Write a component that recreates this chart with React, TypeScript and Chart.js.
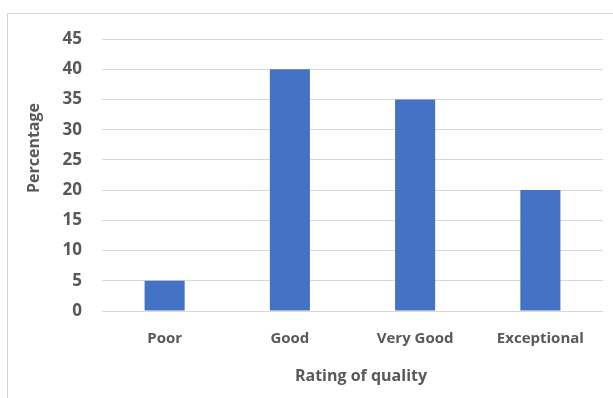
import React, { useEffect, useRef } from "react";
import { Chart, registerables } from "chart.js";

Chart.register(...registerables);

const categories = ["Poor", "Good", "Very Good", "Exceptional"];
const percentages = [5, 40, 35, 20];
const yTicks = [0, 5, 10, 15, 20, 25, 30, 35, 40, 45];
const xTitle = "Rating of quality";
const yTitle = "Percentage";

const TEXT = "#595959";
const GRID = "#d9d9d9";
const BAR = "#4472C4";
const FONT = "'Open Sans', sans-serif";

// Axis titles placed like the office-style chart they come from
const axisTitles = {
  id: "axisTitles",
  afterDraw(chart: any) {
    const { ctx } = chart;
    ctx.save();
    ctx.fillStyle = TEXT;
    ctx.font = `bold 16px ${FONT}`;
    ctx.textAlign = "center";
    ctx.textBaseline = "middle";
    ctx.fillText(xTitle, 361, 376);
    ctx.translate(34, 148);
    ctx.rotate(-Math.PI / 2);
    ctx.fillText(yTitle, 0, 0);
    ctx.restore();
  },
};

export default function App() {
  const ref = useRef<HTMLCanvasElement>(null);

  useEffect(() => {
    if (!ref.current) return;
    const chart = new Chart(ref.current, {
      type: "bar",
      data: {
        labels: categories,
        datasets: [
          {
            data: percentages,
            backgroundColor: BAR,
            borderWidth: 0,
            categoryPercentage: 1,
            barPercentage: 0.32,
          },
        ],
      },
      options: {
        animation: false,
        responsive: false,
        maintainAspectRatio: false,
        layout: { padding: { left: 0, top: 39, right: 10, bottom: 0 } },
        plugins: { legend: { display: false }, tooltip: { enabled: false } },
        scales: {
          x: {
            grid: { display: false },
            border: { display: false },
            ticks: {
              color: TEXT,
              font: { family: FONT, size: 15, weight: "bold" },
              padding: 11,
              maxRotation: 0,
            },
            afterFit(scale: any) {
              scale.height = 87;
            },
          },
          y: {
            min: 0,
            max: 45,
            afterBuildTicks(scale: any) {
              scale.ticks = yTicks.map((v) => ({ value: v }));
            },
            grid: { color: GRID, lineWidth: 1, drawTicks: false },
            border: { display: false },
            ticks: {
              color: TEXT,
              font: { family: FONT, size: 17, weight: "bold" },
              padding: 20,
            },
            afterFit(scale: any) {
              scale.width = 102;
            },
          },
        },
      },
      plugins: [axisTitles],
    });
    return () => chart.destroy();
  }, []);

  return (
    <div style={{ position: "fixed", left: 0, top: 0, width: 613, height: 398, background: "#fff", overflow: "hidden" }}>
      <div
        style={{
          position: "absolute",
          left: 7,
          top: 13,
          width: 700,
          height: 500,
          border: "1px solid #d4d4d4",
        }}
      />
      <canvas ref={ref} width={613} height={398} style={{ position: "absolute", left: 0, top: 0 }} />
    </div>
  );
}
